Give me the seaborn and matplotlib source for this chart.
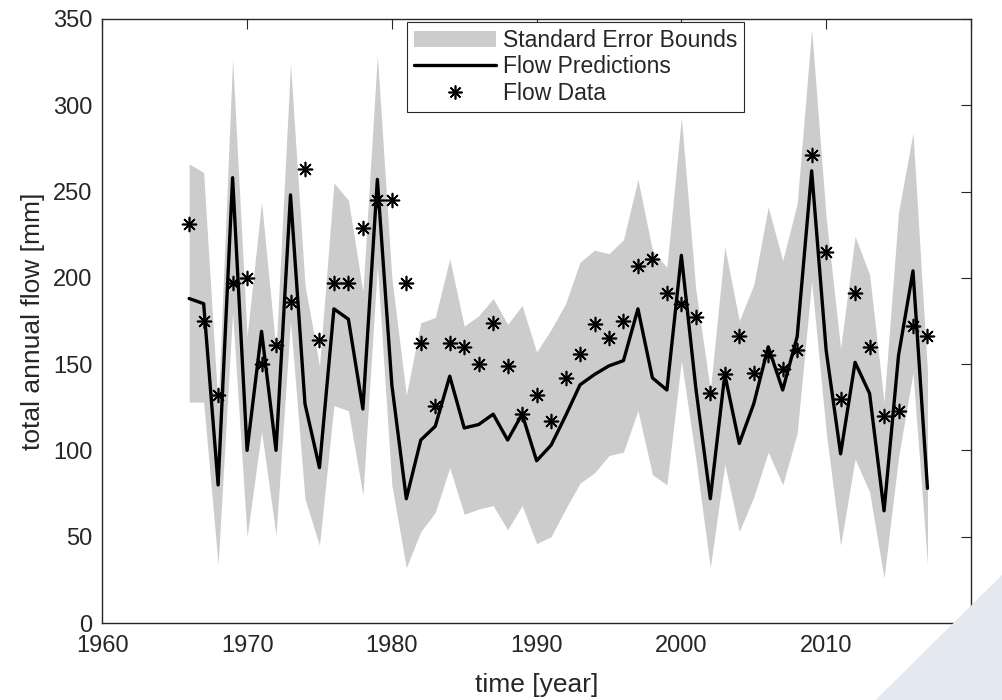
import numpy as np
import pandas as pd
import matplotlib
matplotlib.use('Agg')
import matplotlib.pyplot as plt
from matplotlib.patches import Patch, Polygon
from matplotlib.lines import Line2D
import seaborn as sns

years = list(range(1966, 2018))

flow_pred = [188, 185, 80, 258, 100, 169, 100, 248, 127, 90,
             182, 176, 124, 257, 138, 72, 106, 114, 143, 113,
             115, 121, 106, 121, 94, 103, 120, 138, 144, 149,
             152, 182, 142, 135, 213, 136, 72, 144, 104, 127,
             160, 135, 166, 262, 158, 98, 151, 133, 65, 155,
             204, 78]

flow_data = [231, 175, 132, 197, 200, 150, 161, 186, 263, 164,
             197, 197, 229, 245, 245, 197, 162, 126, 162, 160,
             150, 174, 149, 121, 132, 117, 142, 156, 173, 165,
             175, 207, 211, 191, 185, 177, 133, 144, 166, 145,
             155, 147, 158, 271, 215, 130, 191, 160, 120, 123,
             172, 166]

upper = [266, 261, 125, 327, 166, 244, 158, 324, 196, 149,
         255, 245, 192, 329, 200, 132, 174, 177, 211, 172,
         178, 188, 173, 184, 157, 170, 185, 209, 216, 214,
         222, 257, 216, 206, 293, 193, 135, 218, 175, 196,
         241, 210, 243, 344, 235, 159, 224, 202, 128, 238,
         284, 146]

lower = [128, 128, 34, 180, 50, 111, 51, 175, 72, 45,
         126, 123, 74, 207, 80, 32, 53, 64, 90, 63,
         66, 68, 54, 68, 46, 50, 66, 81, 87, 97,
         99, 123, 86, 80, 152, 95, 32, 92, 53, 73,
         99, 80, 110, 198, 111, 45, 95, 76, 26, 96,
         145, 34]

df = pd.DataFrame({'year': years, 'pred': flow_pred, 'data': flow_data,
                   'upper': upper, 'lower': lower})

sns.set_style('white')
plt.rcParams['font.family'] = ['Liberation Sans', 'DejaVu Sans']

fig = plt.figure(figsize=(10.03, 7.0), dpi=100)
ax = fig.add_axes([0.102, 0.110, 0.866, 0.863])

# decorative shape in the lower right corner
fig.patches.append(Polygon([[0.873, 0.0], [1.0, 0.18], [1.0, 0.0]], closed=True,
                           transform=fig.transFigure, facecolor='#e3e8f1',
                           edgecolor='none', zorder=0))

ax.fill_between(df['year'], df['lower'], df['upper'], color='#cccccc', lw=0)
sns.lineplot(data=df, x='year', y='pred', color='black', lw=2.4, ax=ax)
sns.scatterplot(data=df, x='year', y='data', marker=(8, 2, 0), s=100,
                color='black', linewidth=1.2, ax=ax, zorder=5)

ax.set_xlim(1960, 2020)
ax.set_ylim(0, 350)
ax.set_xticks(range(1960, 2021, 10))
ax.set_yticks(range(0, 351, 50))
ax.tick_params(direction='in', length=7, width=0.8, top=True, right=True,
               labelsize=17, colors='#262626', pad=7)
ax.tick_params(axis='x', pad=9)
for s in ax.spines.values():
    s.set_color('#262626')
    s.set_linewidth(1.0)
ax.set_xlabel('time [year]', fontsize=19, color='#262626', labelpad=11)
ax.set_ylabel('total annual flow [mm]', fontsize=19, color='#262626', labelpad=6)

handles = [Patch(facecolor='#cccccc', edgecolor='none'),
           Line2D([], [], color='black', lw=2.4),
           Line2D([], [], color='black', lw=0, marker=(8, 2, 0), markersize=10,
                  markeredgewidth=1.2)]
labels = ['Standard Error Bounds', 'Flow Predictions', 'Flow Data']
leg = ax.legend(handles, labels, loc='upper center', bbox_to_anchor=(0.545, 0.995),
                fontsize=16.5, frameon=True, fancybox=False, edgecolor='#262626',
                framealpha=1, handlelength=3.6, handletextpad=0.3,
                borderpad=0.3, labelspacing=0.16, borderaxespad=0)
leg.get_frame().set_linewidth(0.8)

fig.savefig('out.png', dpi=100)
